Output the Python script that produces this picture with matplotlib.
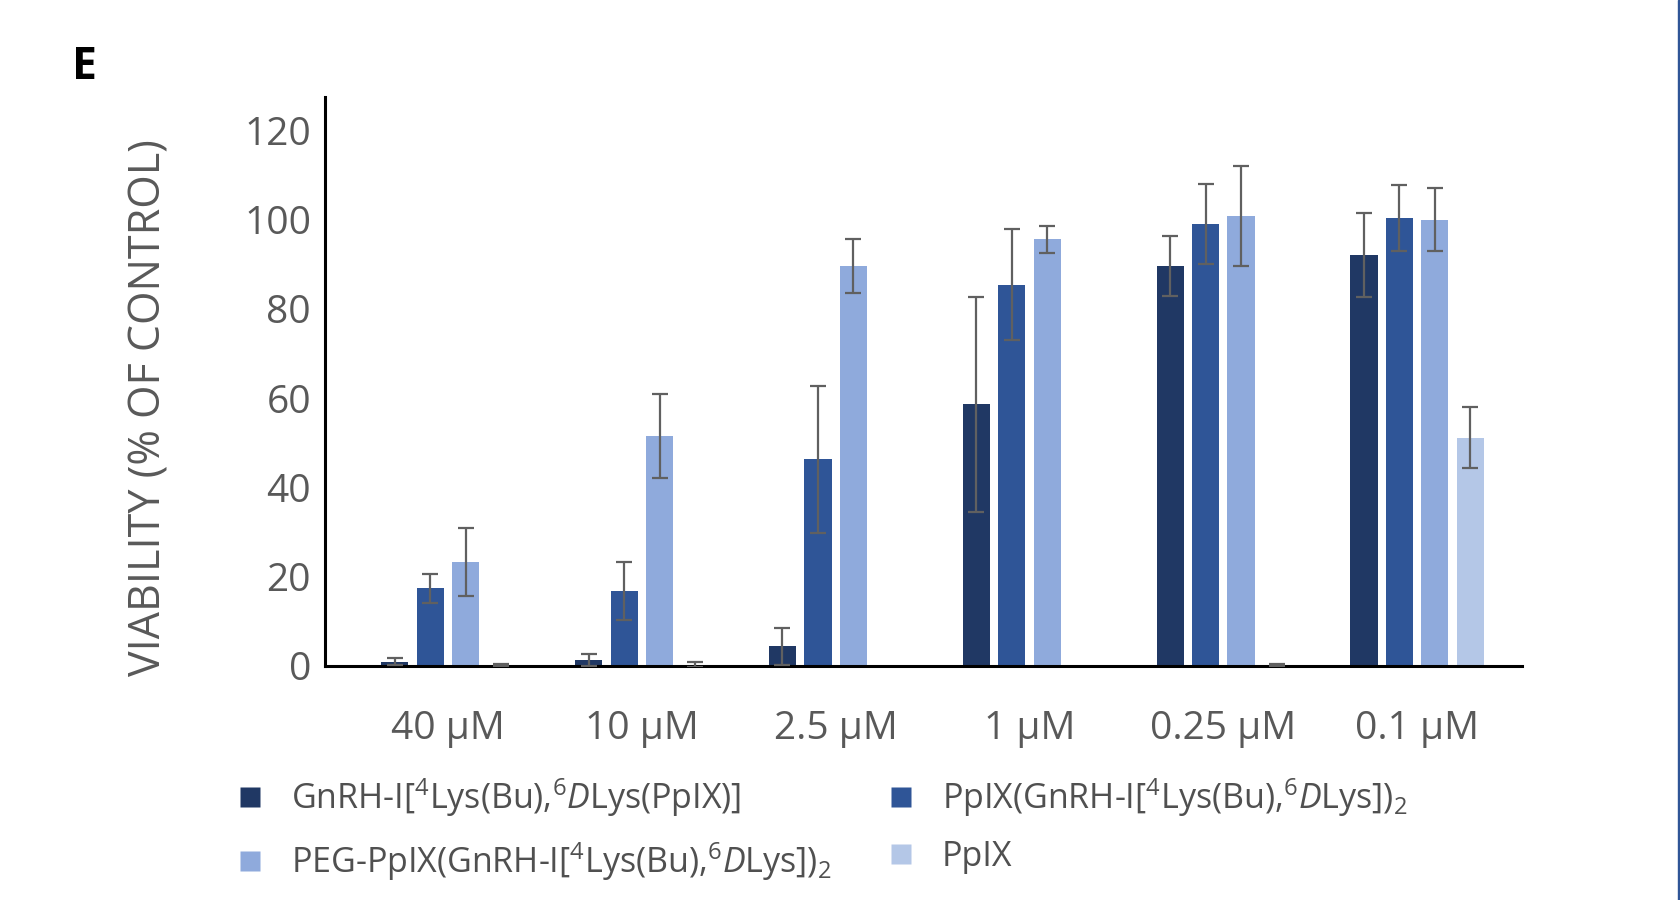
import numpy as np
import matplotlib
matplotlib.use('Agg')
import matplotlib.pyplot as plt
from matplotlib.lines import Line2D
from matplotlib.patches import Rectangle

plt.rcParams['font.family'] = ['Open Sans', 'DejaVu Sans']
plt.rcParams['mathtext.fontset'] = 'custom'
plt.rcParams['mathtext.rm'] = 'Open Sans'
plt.rcParams['mathtext.it'] = 'Open Sans:italic'

concs = ['40 µM', '10 µM', '2.5 µM', '1 µM', '0.25 µM', '0.1 µM']

labels = [
    r'GnRH-I[$^{4}$Lys(Bu),$^{6}\mathit{D}$Lys(PpIX)]',
    r'PpIX(GnRH-I[$^{4}$Lys(Bu),$^{6}\mathit{D}$Lys])$_{2}$',
    r'PEG-PpIX(GnRH-I[$^{4}$Lys(Bu),$^{6}\mathit{D}$Lys])$_{2}$',
    'PpIX',
]
colors = ['#203864', '#2F5597', '#8FAADC', '#B4C7E7']

conj_pp = [1.0, 1.3, 4.4, 58.6, 89.5, 92.0]
conj_pp_err = [0.7, 1.3, 4.2, 24.0, 6.7, 9.4]
dimer = [17.4, 16.8, 46.3, 85.4, 99.0, 100.4]
dimer_err = [3.3, 6.5, 16.5, 12.4, 8.9, 7.4]
peg_dimer = [23.2, 51.5, 89.6, 95.6, 100.8, 100.0]
peg_dimer_err = [7.6, 9.4, 6.0, 3.0, 11.2, 7.1]
ppix = [0.3, 0.3, np.nan, np.nan, 0.3, 51.1]
ppix_err = [0.2, 0.5, np.nan, np.nan, 0.2, 6.8]

series = [(conj_pp, conj_pp_err), (dimer, dimer_err),
          (peg_dimer, peg_dimer_err), (ppix, ppix_err)]

fig = plt.figure(figsize=(16.81, 9.0), dpi=100)
ax = fig.add_axes([0.1933, 0.26, 0.712, 0.632])

x = np.arange(len(concs))
pitch = 0.183
width = 0.14
for i, (vals, errs) in enumerate(series):
    pos = x + (i - 1.5) * pitch
    ax.bar(pos, vals, width, color=colors[i], edgecolor='none', zorder=2)
    ax.errorbar(pos, vals, yerr=errs, fmt='none', ecolor='#606060',
                elinewidth=1.6, capsize=6, capthick=1.6, zorder=3)

ax.set_xlim(-0.635, 5.54)
ax.set_ylim(0, 127.4)
ax.set_yticks([0, 20, 40, 60, 80, 100, 120])
ax.set_xticks(x)
ax.set_xticklabels(concs)
ax.tick_params(axis='both', length=0, labelsize=28, labelcolor='#595959')
ax.tick_params(axis='y', pad=10)
ax.tick_params(axis='x', pad=32)
for s in ['top', 'right']:
    ax.spines[s].set_visible(False)
ax.spines['left'].set_linewidth(2.2)
ax.spines['bottom'].set_linewidth(2.2)

fig.text(0.089, 0.547, 'VIABILITY (% OF CONTROL)', rotation=90, fontsize=31,
         color='#595959', ha='center', va='center')

handles = [Line2D([], [], marker='s', linestyle='none', markersize=14,
                  markerfacecolor=c, markeredgecolor='none') for c in colors]
order = [0, 2, 1, 3]
fig.legend([handles[i] for i in order], [labels[i] for i in order],
           ncol=2, frameon=False, fontsize=24.5, labelcolor='#505050',
           loc='upper left', bbox_to_anchor=(0.1386, 0.138),
           borderpad=0, borderaxespad=0, handlelength=1.0,
           handletextpad=0.7, columnspacing=1.55, labelspacing=0.64)

fig.text(0.043, 0.925, 'E', fontsize=32, fontweight='bold', ha='left', va='center')
fig.patches.append(Rectangle((0.9982, 0), 0.002, 1, transform=fig.transFigure,
                             color='#2F5597', zorder=5))

fig.savefig('out.png', dpi=100)
